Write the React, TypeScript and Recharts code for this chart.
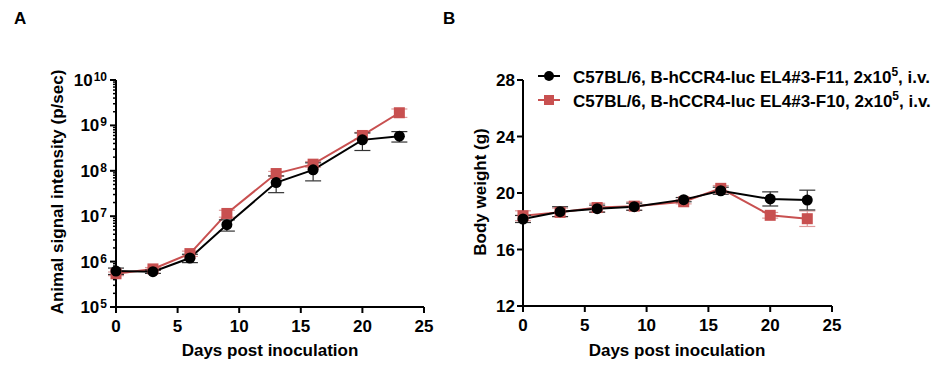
import React from "react";
import { LineChart, Line, XAxis, YAxis, ErrorBar } from "recharts";

const DAYS = [0, 3, 6, 9, 13, 16, 20, 23];

// panel A: animal signal intensity (p/sec)
const SIGNAL_F11 = [6.2e5, 6.0e5, 1.2e6, 6.5e6, 5.5e7, 1.05e8, 4.8e8, 5.8e8];
const SIGNAL_F11_ERR = [1.0e5, 5e4, 2.5e5, 1.8e6, 2.2e7, 4.5e7, 2.0e8, 1.5e8];
const SIGNAL_F10 = [5.4e5, 6.9e5, 1.5e6, 1.15e7, 8.7e7, 1.4e8, 6.0e8, 1.9e9];
const SIGNAL_F10_ERR = [5e4, 5e4, 2e5, 2e6, 1e7, 2e7, 1e8, 4e8];

// panel B: body weight (g)
const WEIGHT_F11 = [18.16, 18.68, 18.89, 19.03, 19.53, 20.16, 19.58, 19.5];
const WEIGHT_F11_ERR = [0.25, 0.35, 0.25, 0.25, 0.15, 0.25, 0.5, 0.7];
const WEIGHT_F10 = [18.39, 18.63, 18.97, 19.07, 19.38, 20.33, 18.42, 18.18];
const WEIGHT_F10_ERR = [0.35, 0.3, 0.3, 0.3, 0.15, 0.2, 0.2, 0.55];

const X_TICKS = [0, 5, 10, 15, 20, 25];
const LOG_DECADES = [5, 6, 7, 8, 9, 10];
const MINOR_STEPS = [2, 3, 4, 5, 6, 7, 8, 9];
const WEIGHT_TICKS = [12, 16, 20, 24, 28];

const SERIES_NAMES = ["C57BL/6, B-hCCR4-luc EL4#3-F11, 2x10", "C57BL/6, B-hCCR4-luc EL4#3-F10, 2x10"];

const BLACK = "#000000";
const RED = "#c85050";
const FONT = "'Liberation Sans', Arial, sans-serif";
const FS = 17;

const LOG_TICKS: number[] = [];
LOG_DECADES.forEach((e, i) => {
  LOG_TICKS.push(Math.pow(10, e));
  if (i < LOG_DECADES.length - 1) MINOR_STEPS.forEach((m) => LOG_TICKS.push(m * Math.pow(10, e)));
});

const signalData = DAYS.map((d, i) => ({
  day: d,
  f11: SIGNAL_F11[i], f11Err: SIGNAL_F11_ERR[i],
  f10: SIGNAL_F10[i], f10Err: SIGNAL_F10_ERR[i],
}));
const weightData = DAYS.map((d, i) => ({
  day: d,
  f11: WEIGHT_F11[i], f11Err: WEIGHT_F11_ERR[i],
  f10: WEIGHT_F10[i], f10Err: WEIGHT_F10_ERR[i],
}));

function XTick({ x, y, payload }: any) {
  return (
    <g>
      <line x1={x} x2={x} y1={y} y2={y + 6} stroke={BLACK} strokeWidth={2} />
      <text x={x} y={y + 25} textAnchor="middle" fontFamily={FONT} fontWeight={700} fontSize={FS} fill={BLACK}>
        {payload.value}
      </text>
    </g>
  );
}

function LogTick({ x, y, payload }: any) {
  const e = Math.log10(payload.value);
  const major = Math.abs(e - Math.round(e)) < 1e-6;
  if (!major) {
    return <line x1={x - 3} x2={x} y1={y} y2={y} stroke={BLACK} strokeWidth={1.5} />;
  }
  return (
    <g>
      <line x1={x - 6} x2={x} y1={y} y2={y} stroke={BLACK} strokeWidth={2} />
      <text x={x - 9} y={y + 6} textAnchor="end" fontFamily={FONT} fontWeight={700} fontSize={FS} fill={BLACK}>
        10
        <tspan dx={1} dy={-5} fontSize={12}>{Math.round(e)}</tspan>
      </text>
    </g>
  );
}

function WeightTick({ x, y, payload }: any) {
  return (
    <g>
      <line x1={x - 6} x2={x} y1={y} y2={y} stroke={BLACK} strokeWidth={2} />
      <text x={x - 8} y={y + 6} textAnchor="end" fontFamily={FONT} fontWeight={700} fontSize={FS} fill={BLACK}>
        {payload.value}
      </text>
    </g>
  );
}

function SquareDot({ cx, cy, index }: any) {
  return <rect key={"sq" + index} x={cx - 5.5} y={cy - 5.5} width={11} height={11} fill={RED} />;
}

const titleStyle: React.CSSProperties = {
  position: "absolute", fontFamily: FONT, fontWeight: 700, fontSize: FS, color: BLACK, whiteSpace: "nowrap",
};

function YTitle({ text, cx, cy }: { text: string; cx: number; cy: number }) {
  return (
    <div style={{ ...titleStyle, left: cx, top: cy, transform: "translate(-50%, -50%) rotate(-90deg)" }}>{text}</div>
  );
}

function XTitle({ text, cx, top }: { text: string; cx: number; top: number }) {
  return <div style={{ ...titleStyle, left: cx, top, transform: "translateX(-50%)" }}>{text}</div>;
}

function LegendRow({ name, color, square, top }: { name: string; color: string; square: boolean; top: number }) {
  return (
    <div style={{ position: "absolute", left: 537, top, height: 20, display: "flex", alignItems: "center" }}>
      <svg width={24} height={14} style={{ marginRight: 12 }}>
        <line x1={1} x2={23} y1={7} y2={7} stroke={color} strokeWidth={2} />
        {square ? <rect x={7} y={2} width={10} height={10} fill={color} /> : <circle cx={12} cy={7} r={5} fill={color} />}
      </svg>
      <span style={{ fontFamily: FONT, fontWeight: 700, fontSize: FS, color: BLACK, whiteSpace: "nowrap" }}>
        {name}
        <sup style={{ fontSize: 12 }}>5</sup>, i.v.
      </span>
    </div>
  );
}

export default function App() {
  return (
    <div style={{ position: "absolute", left: 0, top: 0, width: 950, height: 369, background: "#fff", overflow: "hidden" }}>
      <div style={{ ...titleStyle, left: 14, top: 9 }}>A</div>
      <div style={{ ...titleStyle, left: 443, top: 9 }}>B</div>

      <div style={{ position: "absolute", left: 0, top: 0 }}>
        <LineChart width={450} height={369} data={signalData} margin={{ top: 80, right: 26, bottom: 22, left: 56 }}>
          <XAxis dataKey="day" type="number" domain={[0, 25]} ticks={X_TICKS} height={40}
            axisLine={{ stroke: BLACK, strokeWidth: 2 }} tickLine={false} tickSize={0} tickMargin={0}
            tick={<XTick />} interval={0} />
          <YAxis scale="log" type="number" domain={[1e5, 1e10]} ticks={LOG_TICKS} width={60} allowDataOverflow
            axisLine={{ stroke: BLACK, strokeWidth: 2 }} tickLine={false} tickSize={0} tickMargin={0}
            tick={<LogTick />} interval={0} />
          <Line dataKey="f10" stroke={RED} strokeWidth={2} dot={<SquareDot />} isAnimationActive={false}>
            <ErrorBar dataKey="f10Err" direction="y" width={8} stroke="#de9a9a" strokeWidth={1.2} isAnimationActive={false} />
          </Line>
          <Line dataKey="f11" stroke={BLACK} strokeWidth={2} dot={{ r: 5.5, fill: BLACK, stroke: BLACK, strokeWidth: 0 }} isAnimationActive={false}>
            <ErrorBar dataKey="f11Err" direction="y" width={8} stroke="#333" strokeWidth={1.2} isAnimationActive={false} />
          </Line>
        </LineChart>
      </div>

      <div style={{ position: "absolute", left: 450, top: 0 }}>
        <LineChart width={500} height={369} data={weightData} margin={{ top: 80, right: 118, bottom: 23, left: 13 }}>
          <XAxis dataKey="day" type="number" domain={[0, 25]} ticks={X_TICKS} height={40}
            axisLine={{ stroke: BLACK, strokeWidth: 2 }} tickLine={false} tickSize={0} tickMargin={0}
            tick={<XTick />} interval={0} />
          <YAxis type="number" domain={[12, 28]} ticks={WEIGHT_TICKS} width={60}
            axisLine={{ stroke: BLACK, strokeWidth: 2 }} tickLine={false} tickSize={0} tickMargin={0}
            tick={<WeightTick />} interval={0} />
          <Line dataKey="f10" stroke={RED} strokeWidth={2} dot={<SquareDot />} isAnimationActive={false}>
            <ErrorBar dataKey="f10Err" direction="y" width={8} stroke="#de9a9a" strokeWidth={1.2} isAnimationActive={false} />
          </Line>
          <Line dataKey="f11" stroke={BLACK} strokeWidth={2} dot={{ r: 5.5, fill: BLACK, stroke: BLACK, strokeWidth: 0 }} isAnimationActive={false}>
            <ErrorBar dataKey="f11Err" direction="y" width={8} stroke="#333" strokeWidth={1.2} isAnimationActive={false} />
          </Line>
        </LineChart>
      </div>

      <YTitle text="Animal signal intensity (p/sec)" cx={58} cy={192} />
      <YTitle text="Body weight (g)" cx={481} cy={192} />
      <XTitle text="Days post inoculation" cx={270} top={341} />
      <XTitle text="Days post inoculation" cx={677} top={341} />

      <LegendRow name={SERIES_NAMES[0]} color={BLACK} square={false} top={66} />
      <LegendRow name={SERIES_NAMES[1]} color={RED} square={true} top={90} />
    </div>
  );
}
